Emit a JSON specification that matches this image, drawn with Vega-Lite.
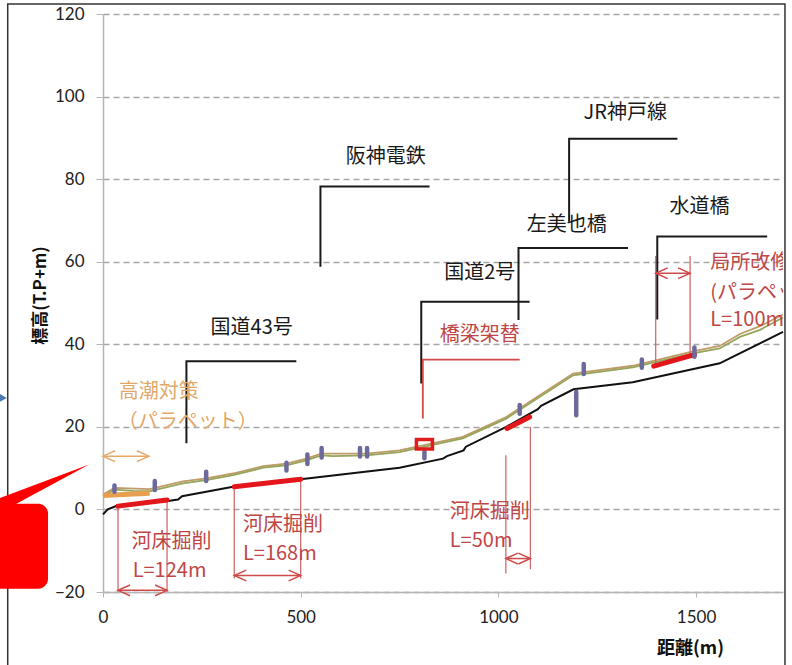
{
  "$schema": "https://vega.github.io/schema/vega-lite/v6.json",
  "width": 680,
  "height": 578,
  "autosize": {"type": "none"},
  "padding": {"left": 103, "top": 14, "right": 9, "bottom": 73},
  "background": "white",
  "config": {
    "view": {"stroke": null},
    "font": "Noto Sans CJK JP",
    "axisX": {
      "grid": false,
      "domainColor": "#b5b5b5",
      "domainWidth": 1.5,
      "tickColor": "#b5b5b5",
      "tickSize": 5,
      "labelFont": "Lato",
      "labelFontSize": 17,
      "labelColor": "#222",
      "labelPadding": 12,
      "labelFlush": false,
      "titleFontSize": 18,
      "titleFontWeight": "bold",
      "titleColor": "#111",
      "titleX": 587,
      "titleY": 56,
      "titleAlign": "center",
      "titleBaseline": "middle"
    },
    "axisY": {
      "grid": true,
      "gridDash": [6, 4],
      "gridColor": "#a6a6a6",
      "gridWidth": 1.3,
      "domainColor": "#b5b5b5",
      "domainWidth": 1.5,
      "tickColor": "#b5b5b5",
      "tickSize": 7,
      "labelFont": "Lato",
      "labelFontSize": 17,
      "labelColor": "#222",
      "labelPadding": 12,
      "labelFlush": false,
      "titleFontSize": 17,
      "titleFontWeight": "bold",
      "titleColor": "#111",
      "titleAngle": 270,
      "titleX": -63,
      "titleY": 281,
      "titleAlign": "center",
      "titleBaseline": "middle"
    }
  },
  "datasets": {
    "frame": [{"x": -241, "x2": 1725, "y": 122.4, "y2": -45}],
    "bed": [
      {"x": 0, "y": -1.2}, {"x": 12, "y": 0}, {"x": 38, "y": 1.0}, {"x": 160, "y": 2.0},
      {"x": 190, "y": 2.4}, {"x": 200, "y": 3.2}, {"x": 329, "y": 5.5}, {"x": 500, "y": 7.3},
      {"x": 750, "y": 10.1}, {"x": 860, "y": 12.3}, {"x": 870, "y": 12.9}, {"x": 912, "y": 14.3},
      {"x": 918, "y": 15.2}, {"x": 1020, "y": 20.0}, {"x": 1100, "y": 24.3}, {"x": 1108, "y": 25.1},
      {"x": 1190, "y": 29.1}, {"x": 1340, "y": 30.8}, {"x": 1560, "y": 35.4}, {"x": 1594, "y": 37.0},
      {"x": 1720, "y": 43.0}
    ],
    "bank": [
      {"x": 0, "y": 3.2}, {"x": 29, "y": 4.8}, {"x": 76, "y": 4.5}, {"x": 118, "y": 4.4},
      {"x": 135, "y": 4.8}, {"x": 202, "y": 6.3}, {"x": 261, "y": 7.1}, {"x": 329, "y": 8.3},
      {"x": 405, "y": 10.1}, {"x": 464, "y": 10.7}, {"x": 514, "y": 11.9}, {"x": 552, "y": 13.1},
      {"x": 582, "y": 12.9}, {"x": 666, "y": 13.1}, {"x": 750, "y": 13.9}, {"x": 910, "y": 17.2},
      {"x": 1020, "y": 22.0}, {"x": 1189, "y": 32.5}, {"x": 1340, "y": 34.4}, {"x": 1492, "y": 37.8},
      {"x": 1560, "y": 39.0}, {"x": 1611, "y": 41.8}, {"x": 1662, "y": 43.5}, {"x": 1720, "y": 46.5}
    ],
    "bankTan": [
      {"x": 0, "y": 3.6}, {"x": 29, "y": 5.2}, {"x": 118, "y": 4.9}, {"x": 202, "y": 6.8},
      {"x": 261, "y": 7.5}, {"x": 329, "y": 8.7}, {"x": 405, "y": 10.5}, {"x": 464, "y": 11.1},
      {"x": 514, "y": 12.3}, {"x": 552, "y": 13.5}, {"x": 666, "y": 13.5}, {"x": 750, "y": 14.3},
      {"x": 910, "y": 17.6}, {"x": 1020, "y": 22.4}, {"x": 1189, "y": 32.9}, {"x": 1340, "y": 34.8},
      {"x": 1492, "y": 38.3}, {"x": 1560, "y": 39.6}, {"x": 1611, "y": 42.5}, {"x": 1662, "y": 44.4},
      {"x": 1720, "y": 47.2}
    ],
    "parapet": [{"x": 0, "x2": 118, "y": 3.4, "y2": 3.9}],
    "cuts": [
      {"x": 38, "x2": 162, "y": 0.8, "y2": 2.3},
      {"x": 332, "x2": 500, "y": 5.5, "y2": 7.3},
      {"x": 1022, "x2": 1079, "y": 19.6, "y2": 22.4},
      {"x": 1393, "x2": 1496, "y": 34.7, "y2": 37.5}
    ],
    "piers": [
      {"x": 29, "y": 4.3, "y2": 5.8}, {"x": 131, "y": 4.7, "y2": 6.9}, {"x": 261, "y": 6.9, "y2": 9.1},
      {"x": 464, "y": 9.4, "y2": 11.3}, {"x": 517, "y": 11.0, "y2": 13.3}, {"x": 553, "y": 12.6, "y2": 14.9},
      {"x": 650, "y": 12.8, "y2": 14.9}, {"x": 668, "y": 12.8, "y2": 14.9}, {"x": 813, "y": 12.4, "y2": 13.9},
      {"x": 1054, "y": 23.2, "y2": 25.3}, {"x": 1216, "y": 32.8, "y2": 35.2}, {"x": 1197, "y": 22.8, "y2": 28.5},
      {"x": 1363, "y": 34.3, "y2": 36.3}, {"x": 1496, "y": 37.0, "y2": 39.2}
    ],
    "dims": [
      {"x": 38, "y": 0.8, "y2": -20}, {"x": 162, "y": 2.3, "y2": -20},
      {"x": 332, "y": 5.5, "y2": -16.7}, {"x": 500, "y": 7.3, "y2": -16.7},
      {"x": 1019, "y": 13.1, "y2": -15.5}, {"x": 1081, "y": 20.0, "y2": -14.5},
      {"x": 1398, "y": 61.4, "y2": 35.0}, {"x": 1485, "y": 61.4, "y2": 37.8}
    ],
    "leaders": [
      {"name": "国道43号", "o": 1, "x": 211, "y": 16.0, "kind": "bridge"},
      {"name": "国道43号", "o": 2, "x": 211, "y": 35.9, "kind": "bridge"},
      {"name": "国道43号", "o": 3, "x": 489, "y": 35.9, "kind": "bridge"},
      {"name": "阪神電鉄", "o": 1, "x": 550, "y": 58.8, "kind": "bridge"},
      {"name": "阪神電鉄", "o": 2, "x": 550, "y": 78.2, "kind": "bridge"},
      {"name": "阪神電鉄", "o": 3, "x": 826, "y": 78.2, "kind": "bridge"},
      {"name": "国道2号", "o": 1, "x": 805, "y": 30.5, "kind": "bridge"},
      {"name": "国道2号", "o": 2, "x": 805, "y": 50.3, "kind": "bridge"},
      {"name": "国道2号", "o": 3, "x": 1079, "y": 50.3, "kind": "bridge"},
      {"name": "左美也橋", "o": 1, "x": 1051, "y": 45.9, "kind": "bridge"},
      {"name": "左美也橋", "o": 2, "x": 1051, "y": 63.3, "kind": "bridge"},
      {"name": "左美也橋", "o": 3, "x": 1328, "y": 63.3, "kind": "bridge"},
      {"name": "JR神戸線", "o": 1, "x": 1179, "y": 69.7, "kind": "bridge"},
      {"name": "JR神戸線", "o": 2, "x": 1179, "y": 89.8, "kind": "bridge"},
      {"name": "JR神戸線", "o": 3, "x": 1453, "y": 89.8, "kind": "bridge"},
      {"name": "水道橋", "o": 1, "x": 1402, "y": 46.0, "kind": "bridge"},
      {"name": "水道橋", "o": 2, "x": 1402, "y": 66.1, "kind": "bridge"},
      {"name": "水道橋", "o": 3, "x": 1680, "y": 66.1, "kind": "bridge"},
      {"name": "橋梁架替", "o": 1, "x": 809, "y": 22.0, "kind": "work"},
      {"name": "橋梁架替", "o": 2, "x": 809, "y": 36.3, "kind": "work"},
      {"name": "橋梁架替", "o": 3, "x": 1054, "y": 36.3, "kind": "work"}
    ],
    "replace": [{"x": 813, "y": 15.8}],
    "arrows": [
      {"x": 38, "x2": 162, "y": -19.6, "kind": "work"},
      {"x": 332, "x2": 500, "y": -16.0, "kind": "work"},
      {"x": 1019, "x2": 1081, "y": -11.9, "kind": "work"},
      {"x": 1398, "x2": 1485, "y": 57.2, "kind": "work"},
      {"x": 0, "x2": 116, "y": 12.9, "kind": "tide"}
    ],
    "labels": [
      {"x": 376, "y": 43.9, "text": "国道43号", "group": "bridge"},
      {"x": 715, "y": 85.4, "text": "阪神電鉄", "group": "bridge"},
      {"x": 953, "y": 57.2, "text": "国道2号", "group": "bridge"},
      {"x": 1173, "y": 68.9, "text": "左美也橋", "group": "bridge"},
      {"x": 1321, "y": 96.0, "text": "JR神戸線", "group": "bridge"},
      {"x": 1509, "y": 73.3, "text": "水道橋", "group": "bridge"},
      {"x": 953, "y": 42.2, "text": "橋梁架替", "group": "workc"},
      {"x": 72, "y": -7.9, "text": "河床掘削", "group": "work"},
      {"x": 75, "y": -14.9, "text": "L=124m", "group": "work"},
      {"x": 354, "y": -3.8, "text": "河床掘削", "group": "work"},
      {"x": 354, "y": -10.9, "text": "L=168m", "group": "work"},
      {"x": 877, "y": -0.6, "text": "河床掘削", "group": "work"},
      {"x": 877, "y": -7.6, "text": "L=50m", "group": "work"},
      {"x": 1536, "y": 59.6, "text": "局所改修", "group": "local"},
      {"x": 1536, "y": 52.4, "text": "(パラペット)", "group": "local"},
      {"x": 1536, "y": 46.0, "text": "L=100m", "group": "local"},
      {"x": 40, "y": 28.5, "text": "高潮対策", "group": "tide"},
      {"x": 37, "y": 21.2, "text": "（パラペット）", "group": "tide"}
    ],
    "callout": [{"x": -300, "x2": -139, "y": 1.4, "y2": -19.2}],
    "wedge": [{"x": -265, "y": 2.6, "y2": -1.0}, {"x": -35, "y": 10.9, "y2": 10.9}],
    "marker": [{"x": -268, "y": 27}]
  },
  "encoding": {
    "x": {
      "field": "x",
      "type": "quantitative",
      "scale": {"domain": [0, 1720], "nice": false, "zero": false},
      "axis": {"values": [0, 500, 1000, 1500], "format": "d"},
      "title": "距離(m)"
    },
    "y": {
      "field": "y",
      "type": "quantitative",
      "scale": {"domain": [-20, 120], "nice": false, "zero": false},
      "axis": {"values": [-20, 0, 20, 40, 60, 80, 100, 120], "format": "d"},
      "title": "標高(T.P+m)"
    }
  },
  "layer": [
    {
      "data": {"name": "frame"},
      "mark": {"type": "rect", "filled": false, "stroke": "#333", "strokeWidth": 1.5},
      "encoding": {"x2": {"field": "x2"}, "y2": {"field": "y2"}}
    },
    {
      "data": {"name": "bankTan"},
      "mark": {"type": "line", "color": "#c09a68", "strokeWidth": 1.8},
      "encoding": {}
    },
    {
      "data": {"name": "bank"},
      "mark": {"type": "line", "color": "#95a55a", "strokeWidth": 1.8},
      "encoding": {}
    },
    {
      "data": {"name": "bed"},
      "mark": {"type": "line", "color": "#111", "strokeWidth": 2},
      "encoding": {}
    },
    {
      "data": {"name": "parapet"},
      "mark": {"type": "rule", "color": "#e8a050", "strokeWidth": 5},
      "encoding": {"x2": {"field": "x2"}, "y2": {"field": "y2"}}
    },
    {
      "data": {"name": "dims"},
      "mark": {"type": "rule", "color": "#d36a6a", "strokeWidth": 1.3},
      "encoding": {"y2": {"field": "y2"}}
    },
    {
      "data": {"name": "leaders"},
      "transform": [{"filter": "datum.kind === 'bridge'"}],
      "mark": {"type": "line", "color": "#1a1a1a", "strokeWidth": 2},
      "encoding": {"detail": {"field": "name"}, "order": {"field": "o"}}
    },
    {
      "data": {"name": "leaders"},
      "transform": [{"filter": "datum.kind === 'work'"}],
      "mark": {"type": "line", "color": "#d04a4a", "strokeWidth": 1.8},
      "encoding": {"detail": {"field": "name"}, "order": {"field": "o"}}
    },
    {
      "data": {"name": "cuts"},
      "mark": {"type": "rule", "color": "#e3161c", "strokeWidth": 5, "strokeCap": "round"},
      "encoding": {"x2": {"field": "x2"}, "y2": {"field": "y2"}}
    },
    {
      "data": {"name": "piers"},
      "mark": {"type": "rule", "color": "#6c6a9c", "strokeWidth": 4.5, "strokeCap": "round"},
      "encoding": {"y2": {"field": "y2"}}
    },
    {
      "data": {"name": "replace"},
      "mark": {"type": "point", "shape": "M-1,-0.6H1V0.6H-1Z", "size": 256, "filled": false, "color": "#e01c1c", "strokeWidth": 3.5, "opacity": 1},
      "encoding": {}
    },
    {
      "data": {"name": "arrows"},
      "mark": {"type": "rule", "strokeWidth": 1.5},
      "encoding": {
        "x2": {"field": "x2"},
        "color": {"field": "kind", "type": "nominal", "scale": {"domain": ["work", "tide"], "range": ["#d04a4a", "#e8a868"]}, "legend": null}
      }
    },
    {
      "data": {"name": "arrows"},
      "mark": {"type": "point", "shape": "M2,-0.9L0,0L2,0.9", "size": 144, "filled": false, "strokeWidth": 1.5, "opacity": 1},
      "encoding": {
        "color": {"field": "kind", "type": "nominal", "legend": null}
      }
    },
    {
      "data": {"name": "arrows"},
      "mark": {"type": "point", "shape": "M-2,-0.9L0,0L-2,0.9", "size": 144, "filled": false, "strokeWidth": 1.5, "opacity": 1},
      "encoding": {
        "x": {"field": "x2", "type": "quantitative", "title": "距離(m)"},
        "color": {"field": "kind", "type": "nominal", "legend": null}
      }
    },
    {
      "data": {"name": "labels"},
      "transform": [{"filter": "datum.group === 'bridge'"}],
      "mark": {"type": "text", "align": "center", "baseline": "middle", "fontSize": 20, "color": "#1a1a1a"},
      "encoding": {"text": {"field": "text"}}
    },
    {
      "data": {"name": "labels"},
      "transform": [{"filter": "datum.group === 'workc'"}],
      "mark": {"type": "text", "align": "center", "baseline": "middle", "fontSize": 20, "color": "#c04646"},
      "encoding": {"text": {"field": "text"}}
    },
    {
      "data": {"name": "labels"},
      "transform": [{"filter": "datum.group === 'work' || datum.group === 'local'"}],
      "mark": {"type": "text", "align": "left", "baseline": "middle", "fontSize": 20, "color": "#c04646", "clip": true},
      "encoding": {"text": {"field": "text"}}
    },
    {
      "data": {"name": "labels"},
      "transform": [{"filter": "datum.group === 'tide'"}],
      "mark": {"type": "text", "align": "left", "baseline": "middle", "fontSize": 20, "color": "#e2a86a"},
      "encoding": {"text": {"field": "text"}}
    },
    {
      "data": {"name": "callout"},
      "mark": {"type": "rect", "color": "#ff0000", "cornerRadius": 10},
      "encoding": {"x2": {"field": "x2"}, "y2": {"field": "y2"}}
    },
    {
      "data": {"name": "wedge"},
      "mark": {"type": "area", "color": "#ff0000", "orient": "vertical", "opacity": 1},
      "encoding": {"y2": {"field": "y2"}}
    },
    {
      "data": {"name": "marker"},
      "mark": {"type": "point", "shape": "triangle-right", "size": 500, "filled": true, "color": "#4a78b5", "opacity": 1},
      "encoding": {}
    }
  ]
}
